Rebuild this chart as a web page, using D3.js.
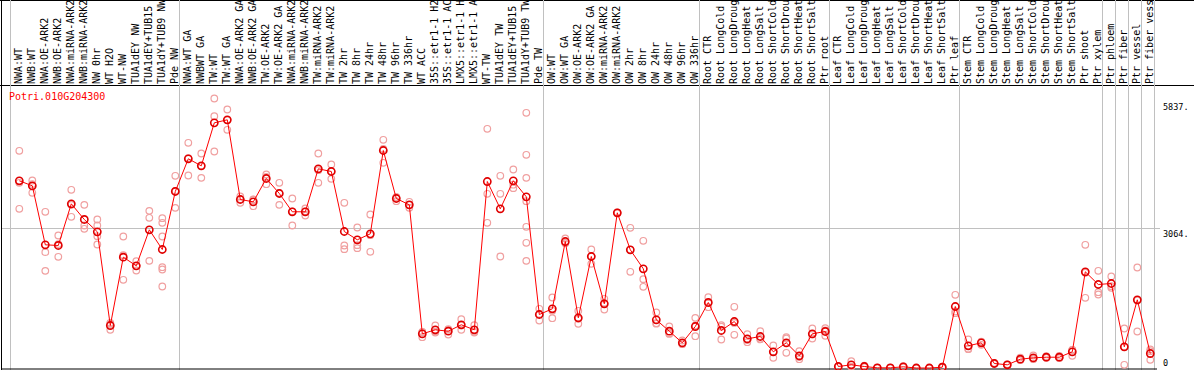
<!DOCTYPE html>
<html>
<head>
<meta charset="utf-8">
<script src="https://cdn.jsdelivr.net/npm/d3@7"></script>
<style>
  html, body { margin: 0; padding: 0; background: #fff; }
  svg { display: block; }
</style>
</head>
<body>
<div id="chart"></div>
<script>
const title = "Potri.010G204300";

const samples = [
  "NWA:WT","NWB:WT","NWA:OE-ARK2","NWB:OE-ARK2","NWA:miRNA-ARK2","NWB:miRNA-ARK2","NW 0hr","WT H2O","WT-NW","TUA1dEY NW","TUA1dEY+TUB15","TUA1dY+TUB9 NW","Pde NW",
  "NWA:WT GA","NWBWT GA","TW:WT","TW:WT GA","NWA:OE-ARK2 GA","NWB:OE-ARK2 GA","TW:OE-ARK2","TW:OE-ARK2 GA","NWA:miRNA-ARK2","NWB:miRNA-ARK2","TW:miRNA-ARK2","TW:miRNA-ARK2","TW 2hr","TW 8hr","TW 24hr","TW 48hr","TW 96hr","TW 336hr","WT ACC","35S::etr1-1 H2","35S::etr1-1 AC","LMX5::etr1-1 H","LMX5::etr1-1 A","WT-TW","TUA1dEY TW","TUA1dEY+TUB15","TUA1dY+TUB9 TW","Pde TW",
  "OW:WT","OW:WT GA","OW:OE-ARK2","OW:OE-ARK2 GA","OW:miRNA-ARK2","OW:miRNA-ARK2","OW 2hr","OW 8hr","OW 24hr","OW 48hr","OW 96hr","OW 336hr",
  "Root CTR","Root LongCold","Root LongDroug","Root LongHeat","Root LongSalt","Root ShortCold","Root ShortDrou","Root ShortHeat","Root ShortSalt","Ptr root",
  "Leaf CTR","Leaf LongCold","Leaf LongDroug","Leaf LongHeat","Leaf LongSalt","Leaf ShortCold","Leaf ShortDrou","Leaf ShortHeat","Leaf ShortSalt","Ptr leaf",
  "Stem CTR","Stem LongCold","Stem LongDroug","Stem LongHeat","Stem LongSalt","Stem ShortCold","Stem ShortDrou","Stem ShortHeat","Stem ShortSalt","Ptr shoot","Ptr xylem",
  "Ptr phloem","Ptr fiber","Ptr vessel","Ptr fiber vess"
];

// group boundaries (sample index where a separator is drawn)
const separators = [0, 13, 41, 53, 63, 73, 84, 85, 86, 87, 88];

const means = [
  4112,4002,2706,2691,3606,3262,2991,933,2434,2244,3035,2603,3877,
  4595,4441,5385,5451,3701,3650,4162,3833,3431,3431,4375,4316,2998,2816,2947,4777,3723,3584,751,839,808,949,839,4096,3497,4112,3760,1175,
  1300,2778,1102,2449,1410,3409,2596,2179,1059,808,553,911,
  1439,824,1021,641,692,356,553,268,751,802,
  33,70,33,4,4,26,0,0,18,1351,
  488,553,99,70,193,224,237,237,356,2113,1834,
  1856,466,1498,318
];

const replicates = [
  [4771,3497,4068],[4118,3848,4040],[3431,2544,2134],[2910,2442,2721],[3914,3321,3583],[3584,3130,3057],[3262,3130,2896,2713],[993,839,967],[2888,1937,2477],[2346,2141,2245],[3452,3299,2354],[3291,3189,2888,2214,2163,1790],[4221,3518,3892],
  [4946,4228,4611],[4711,4177,4435],[5919,5531,4755],[5678,5232,5443],[3767,3628,3708],[3701,3554,3695],[4250,4037,4199],[4068,3584,3847],[3723,3130,3440],[3503,3349,3441],[4711,4068,4346],[4470,4155,4323],[3628,2691,2610],[3086,2698,2632],[3372,2552,2917],[5012,4507,4812],[3752,3664,3753],[3650,3518,3584],[786,676,791],[933,780,804],[852,736,836],[1072,839,936],[940,780,797],[5254,3826,3189],[4221,3826,2449],[4360,3950,4026],[5605,4683,4177,3664,3101,2750,2354],[1300,1043,1182],
  [1548,1094,1258],[2844,2742,2749],[1256,971,1079],[2603,2289,2455],[1520,1285,1425],[3420,3400,3407],[3079,2113,2596],[2794,1951,1783],[1219,984,974],[911,764,749],[604,531,524],[1102,698,933],
  [1555,1335,1427],[940,626,906],[1344,729,990],[742,567,614],[808,641,627],[494,224,350],[676,334,649],[369,193,242],[868,648,737],[874,824,708],
  [40,30,29],[149,31,30],[50,25,24],[8,2,2],[6,3,3],[40,20,18],[0,0,0],[0,0,0],[30,12,12],[1608,1204,1241],
  [626,414,424],[510,580,569],[110,95,92],[80,65,65],[230,175,174],[275,200,197],[260,225,226],[268,222,221],[268,400,400],[2706,1542,2091],[2135,1665,1614],
  [2010,1761,1797],[868,70,460],[2207,802,1485],[406,180,369]
];

const tickValues = [0, 3064, 5837];
const tickLabels = ["0", "3064.", "5837."];

const W = 1194, H = 370;
const svg = d3.select("#chart").append("svg").attr("width", W).attr("height", H);

const x = d3.scaleBand().domain(d3.range(samples.length)).range([10.5, 10.5 + 13 * samples.length]);
const px = i => x(i) + 8.8;
const y = d3.scaleLinear().domain([0, 3064]).range([368, 228.5]);

const grey = "#c0c0c0";
const mono = "'DejaVu Sans Mono', 'Liberation Mono', monospace";

// frame lines
svg.append("line").attr("x1", 0).attr("x2", W).attr("y1", 0.5).attr("y2", 0.5).attr("stroke", "#000");
svg.append("line").attr("x1", 0).attr("x2", W).attr("y1", 85.5).attr("y2", 85.5).attr("stroke", "#000");
svg.append("line").attr("x1", 1.5).attr("x2", 1.5).attr("y1", 0).attr("y2", H).attr("stroke", "#000");

// horizontal gridline
svg.append("line").attr("x1", 2).attr("x2", 1160).attr("y1", y(3064)).attr("y2", y(3064)).attr("stroke", grey);

// separators
svg.append("g").selectAll("line").data(separators).join("line")
  .attr("x1", d => x.range()[0] + d * x.bandwidth()).attr("x2", d => x.range()[0] + d * x.bandwidth())
  .attr("y1", 0).attr("y2", H).attr("stroke", grey);

// bottom axis line
svg.append("line").attr("x1", 1).attr("x2", 1157).attr("y1", 369).attr("y2", 369).attr("stroke", "#000");

// sample labels
svg.append("g").selectAll("text").data(samples).join("text")
  .attr("transform", (d, i) => `translate(${x(i) + 11},84) rotate(-90)`)
  .attr("font-family", mono).attr("font-size", 10).attr("fill", "#000")
  .text(d => d);

// title
svg.append("text").attr("x", 9).attr("y", 100).attr("font-family", mono).attr("font-size", 10)
  .attr("fill", "#ff0000").text(title);

// right axis labels
svg.append("g").selectAll("text").data(tickValues).join("text")
  .attr("x", 1163)
  .attr("y", (d, i) => d === 0 ? y(d) - 2 : y(d) + 8)
  .attr("font-family", mono).attr("font-size", 8.5).attr("fill", "#000")
  .text((d, i) => tickLabels[i]);

// replicate circles
const repPts = [];
replicates.forEach((r, i) => r.forEach(v => repPts.push({ i, v })));
svg.append("g").selectAll("circle").data(repPts).join("circle")
  .attr("cx", d => px(d.i)).attr("cy", d => y(d.v)).attr("r", 3.3)
  .attr("fill", "none").attr("stroke", "#f0a0a0").attr("stroke-width", 1.2);

// mean line
const line = d3.line().x((d, i) => px(i)).y(d => y(d));
svg.append("path").datum(means).attr("d", line).attr("fill", "none").attr("stroke", "#ff0000").attr("stroke-width", 1);

// mean circles
svg.append("g").selectAll("circle").data(means).join("circle")
  .attr("cx", (d, i) => px(i)).attr("cy", d => y(d)).attr("r", 3.6)
  .attr("fill", "none").attr("stroke", "#e00000").attr("stroke-width", 1.6);
</script>
</body>
</html>
